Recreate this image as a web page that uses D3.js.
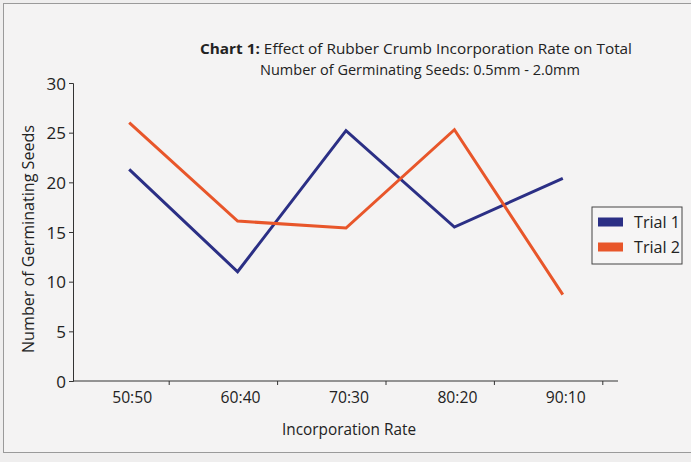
<!DOCTYPE html>
<html>
<head>
<meta charset="utf-8">
<script src="https://cdn.jsdelivr.net/npm/d3@7"></script>
<style>
  body { margin: 0; background: #efeeee; }
  svg text { font-family: "Open Sans", sans-serif; fill: #222; }
</style>
</head>
<body>
<div id="chart"></div>
<script>
// data
const rates = ["50:50", "60:40", "70:30", "80:20", "90:10"];
const trial1 = [21.3, 11.0, 25.2, 15.5, 20.4];
const trial2 = [26.0, 16.1, 15.4, 25.3, 8.7];
const seriesNames = ["Trial 1", "Trial 2"];
const yTicks = [0, 5, 10, 15, 20, 25, 30];

const width = 691, height = 462;
const margin = { top: 83, bottom: 81, left: 73, right: 73 };
const colors = ["#2b2f85", "#e8562a"];

const svg = d3.select("#chart").append("svg")
  .attr("width", width)
  .attr("height", height);

// squeeze text a little, the original uses a narrow font
function fit(sel, len) {
  sel.attr("textLength", len).attr("lengthAdjust", "spacingAndGlyphs");
}

// page frame
svg.append("rect")
  .attr("x", 3.5).attr("y", 3.5)
  .attr("width", width + 10).attr("height", 449)
  .attr("fill", "#f4f3f3")
  .attr("stroke", "#9a9a9a");

const x = d3.scaleBand()
  .domain(rates)
  .range([margin.left + 2, width - margin.right - 1]);

const y = d3.scaleLinear()
  .domain([0, 30])
  .range([height - margin.bottom, margin.top]);

// title
const title = svg.append("text")
  .attr("text-anchor", "middle")
  .attr("x", 416).attr("y", 54)
  .style("font-size", "15px");
title.append("tspan").attr("font-weight", "bold").text("Chart 1: ");
title.append("tspan").text("Effect of Rubber Crumb Incorporation Rate on Total");
fit(title, 432);
svg.append("text")
  .attr("text-anchor", "middle")
  .attr("x", 420).attr("y", 75)
  .style("font-size", "15px")
  .text("Number of Germinating Seeds: 0.5mm - 2.0mm")
  .call(fit, 320);

// y axis
const yAxis = svg.append("g")
  .attr("transform", `translate(${margin.left},0)`)
  .call(d3.axisLeft(y).tickValues(yTicks).tickSize(4).tickPadding(3));
yAxis.selectAll("text").style("font-size", "17px").attr("dy", "0.36em");
yAxis.selectAll("path, line").attr("stroke", "#333");

// x axis, ticks sit a bit right of each label like in the original
const xAxis = svg.append("g")
  .attr("transform", `translate(0,${y(0)})`);
xAxis.append("line")
  .attr("x1", margin.left).attr("x2", width - margin.right)
  .attr("stroke", "#333");
xAxis.selectAll(".tk")
  .data(rates)
  .join("line")
  .attr("class", "tk")
  .attr("x1", d => x(d) + x.bandwidth() / 2 + 40)
  .attr("x2", d => x(d) + x.bandwidth() / 2 + 40)
  .attr("y1", 0).attr("y2", 4)
  .attr("stroke", "#333");
xAxis.selectAll(".lbl")
  .data(rates)
  .join("text")
  .attr("class", "lbl")
  .attr("text-anchor", "middle")
  .attr("x", d => x(d) + x.bandwidth() / 2 + 3)
  .attr("y", 22)
  .style("font-size", "17px")
  .text(d => d)
  .call(fit, 40);

// axis titles
svg.append("text")
  .attr("text-anchor", "middle")
  .attr("x", 349).attr("y", 435)
  .style("font-size", "17px")
  .text("Incorporation Rate")
  .call(fit, 134);
svg.append("text")
  .attr("text-anchor", "middle")
  .attr("transform", "translate(34,239) rotate(-90)")
  .style("font-size", "17px")
  .text("Number of Germinating Seeds")
  .call(fit, 228);

// lines
const line = d3.line()
  .x((d, i) => x(rates[i]) + x.bandwidth() / 2)
  .y(d => y(d));

svg.selectAll(".series")
  .data([trial1, trial2])
  .join("path")
  .attr("class", "series")
  .attr("d", line)
  .attr("fill", "none")
  .attr("stroke", (d, i) => colors[i])
  .attr("stroke-width", 3);

// legend
const legend = svg.append("g").attr("transform", "translate(592,207)");
legend.append("rect")
  .attr("width", 90).attr("height", 57)
  .attr("fill", "#f6f5f5")
  .attr("stroke", "#444");
const items = legend.selectAll(".item")
  .data(seriesNames)
  .join("g")
  .attr("class", "item")
  .attr("transform", (d, i) => `translate(6,${15 + i * 25})`);
items.append("rect")
  .attr("y", -4.5).attr("width", 25).attr("height", 9)
  .attr("fill", (d, i) => colors[i]);
items.append("text")
  .attr("x", 36).attr("y", 6)
  .style("font-size", "17px")
  .text(d => d)
  .call(fit, 46);
</script>
</body>
</html>
